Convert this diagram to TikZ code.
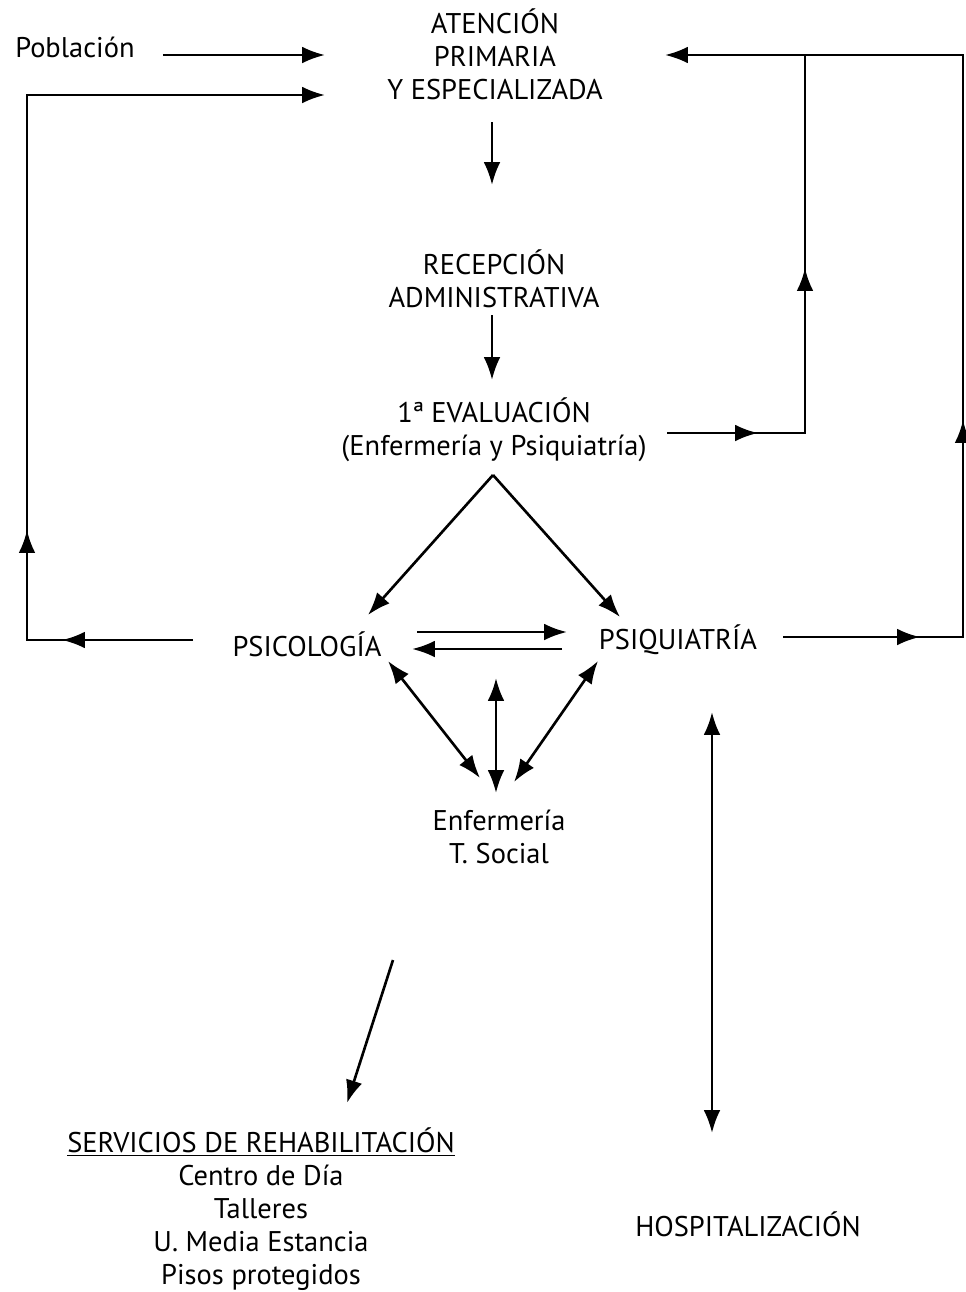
\documentclass[tikz,border=0pt]{standalone}
\usepackage{fontspec}
\setmainfont{PT Sans}
\usetikzlibrary{arrows.meta,calc,decorations.markings}

\begin{document}
\begin{tikzpicture}[x=0.02cm,y=-0.02cm,
    txt/.style={font=\fontsize{16.2}{18.7}\selectfont, align=center, inner sep=0pt},
    line/.style={line width=1.5pt},
    arr/.style={line, -{Latex[length=13pt,width=9.5pt]}},
    dbl/.style={line, {Latex[length=13pt,width=9.5pt]}-{Latex[length=13pt,width=9.5pt]}},
    mids/.style 2 args={postaction={decorate}, decoration={markings,
        mark=at position #1 with {\arrow{Latex[length=13pt,width=9.5pt]}},
        mark=at position #2 with {\arrow{Latex[length=13pt,width=9.5pt]}}}}]
\useasboundingbox (0,0) rectangle (965,1292);

\node[txt, anchor=west] (pob) at (15,47) {Población};
\node[txt] (aten) at (495,54) {ATENCIÓN\\PRIMARIA\\Y ESPECIALIZADA};
\node[txt] (recep) at (494,279) {RECEPCIÓN\\ADMINISTRATIVA};
\node[txt] (eval) at (494,430) {1ª EVALUACIÓN\\(Enfermería y Psiquiatría)};
\node[txt] (psico) at (307,644) {PSICOLOGÍA};
\node[txt] (psiq) at (678,640) {PSIQUIATRÍA};
\node[txt] (enf) at (499,837) {Enfermería\\T. Social};
\node[txt] (rehab) at (261,1209) {\underline{SERVICIOS DE REHABILITACIÓN}\\Centro de Día\\Talleres\\U. Media Estancia\\Pisos protegidos};
\node[txt] (hosp) at (748,1224) {HOSPITALIZACIÓN};

\coordinate (lbot) at (27,640);
\coordinate (ltop) at (27,95);
\coordinate (rin) at (805,433);
\coordinate (rtop) at (805,55);
\coordinate (obot) at (963,637);
\coordinate (otop) at (963,55);

\draw[arr] ($(pob.east)+(28,8)$) -- ($(pob.east -| aten)+(-170,8)$);
\draw[arr, mids={2.62cm}{5.52cm}] ($(psico)+(-114,-4)$) -- (lbot) -- (ltop) -- ($(aten)+(-170,41)$);
\draw[arr] ($(aten)+(-3,68)$) -- ($(recep)+(-2,-94)$);
\draw[arr] ($(recep)+(-2,36)$) -- ($(eval)+(-2,-50)$);
\draw[arr, mids={1.82cm}{6.06cm}] ($(eval)+(173,3)$) -- (rin) -- (rtop) -- ($(aten)+(170,1)$);
\draw[line, mids={2.74cm}{7.94cm}] ($(psiq)+(105,-3)$) -- (obot) -- (otop) -- (rtop);
\draw[arr] ($(eval)+(-1,45)$) -- ($(psico)+(61,-29)$);
\draw[arr] ($(eval)+(-1,45)$) -- ($(psiq)+(-58,-23)$);
\draw[arr] ($(psico)+(110,-12)$) -- ($(psiq)+(-111,-8)$);
\draw[arr] ($(psiq)+(-116,9)$) -- ($(psico)+(105,5)$);
\draw[dbl] ($(psico)+(81,17)$) -- ($(enf)+(-19,-59)$);
\draw[dbl] ($(enf)+(-3,-159)$) -- ($(enf)+(-3,-44)$);
\draw[dbl] ($(psiq)+(-80,21)$) -- ($(enf)+(15,-55)$);
\draw[arr] ($(enf)+(-106,123)$) -- ($(rehab)+(86,-106)$);
\draw[dbl] ($(psiq)+(34,72)$) -- ($(hosp)+(-36,-91)$);
\end{tikzpicture}
\end{document}
